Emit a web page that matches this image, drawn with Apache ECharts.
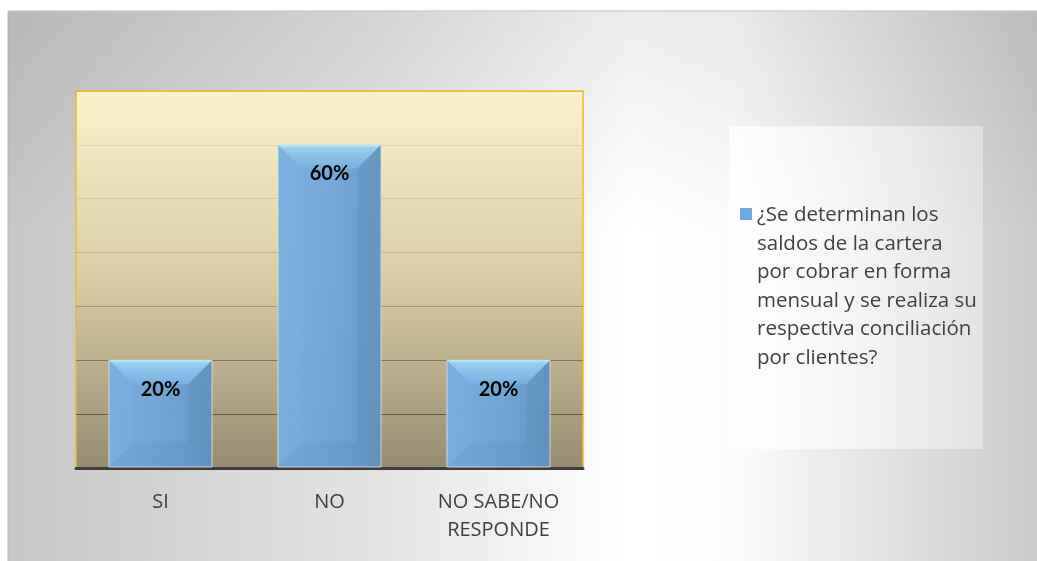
<!DOCTYPE html>
<html>
<head>
<meta charset="utf-8">
<script src="https://cdn.jsdelivr.net/npm/echarts@6/dist/echarts.min.js"></script>
<style>
  html, body { margin: 0; padding: 0; background: #ffffff; }
  #chart { width: 1037px; height: 561px; }
</style>
</head>
<body>
<div id="chart"></div>
<script>
// ---- data ----
const categories = ['SI', 'NO', 'NO SABE/NO RESPONDE'];
const values = [0.2, 0.6, 0.2];
const seriesName = '¿Se determinan los saldos de la cartera por cobrar en forma mensual y se realiza su respectiva conciliación por clientes?';
const legendLines = ['¿Se determinan los', 'saldos de la cartera', 'por cobrar en forma', 'mensual y se realiza su', 'respectiva conciliación', 'por clientes?'];
const yMin = 0, yMax = 0.7, yStep = 0.1;

const FONT = '"Open Sans", Lato, sans-serif';
const chart = echarts.init(document.getElementById('chart'), null, { renderer: 'canvas' });

function lg(x0, y0, x1, y1, stops) {
  return new echarts.graphic.LinearGradient(x0, y0, x1, y1, stops.map(s => ({ offset: s[0], color: s[1] })));
}

function renderBar(params, api) {
  const xi = api.value(0), v = api.value(1);
  const top = api.coord([xi, v]);
  const bot = api.coord([xi, 0]);
  const bw = api.size([1, 0])[0] * 0.61;
  const x0 = top[0] - bw / 2, x1 = top[0] + bw / 2;
  const y0 = top[1], y1 = bot[1] - 1;
  const h = y1 - y0;
  const b = Math.min(24, bw / 2, h / 2);
  const txt = Math.round(v * 100) + '%';
  return {
    type: 'group',
    children: [
      { type: 'rect', shape: { x: x0, y: y0, width: bw, height: h },
        style: { fill: lg(0, 0, 1, 0, [[0, '#75AEE0'], [0.5, '#6DA6D9'], [1, '#6197C7']]), opacity: 0.94 } },
      { type: 'polygon', shape: { points: [[x0, y0], [x1, y0], [x1 - b, y0 + b], [x0 + b, y0 + b]] },
        style: { fill: lg(0, 0, 0, 1, [[0, '#B8EAF6'], [0.14, '#94CEEE'], [1, '#75AFE0']]) } },
      { type: 'polygon', shape: { points: [[x0, y0], [x0 + b, y0 + b], [x0 + b, y1 - b], [x0, y1]] },
        style: { fill: 'rgba(130,185,230,0.18)' } },
      { type: 'polygon', shape: { points: [[x1, y0], [x1 - b, y0 + b], [x1 - b, y1 - b], [x1, y1]] },
        style: { fill: 'rgba(70,115,160,0.12)' } },
      { type: 'polygon', shape: { points: [[x0, y1], [x1, y1], [x1 - b, y1 - b], [x0 + b, y1 - b]] },
        style: { fill: 'rgba(80,130,180,0.16)' } },
      { type: 'rect', shape: { x: x0, y: y0, width: bw, height: h },
        style: { fill: 'none', stroke: 'rgba(215,228,236,0.85)', lineWidth: 1 } },
      { type: 'text', x: top[0], y: y0 + 29,
        style: { text: txt, textAlign: 'center', textVerticalAlign: 'middle',
                 font: 'bold 20px Lato, "Open Sans", sans-serif', fill: '#000000' } }
    ]
  };
}

const option = {
  backgroundColor: '#ffffff',
  animation: false,
  graphic: [
    { type: 'rect', z: -100, shape: { x: 8, y: 11, width: 1040, height: 560 },
      style: { fill: lg(0, 0, 1, 0, [[0, '#C6C6C6'], [0.35, '#E3E3E3'], [0.6, '#FFFFFF'], [0.7, '#FBFBFB'], [1, '#C8C8C8']]),
               stroke: '#B8B8B8', lineWidth: 1 } },
    { type: 'rect', z: -99, shape: { x: 8, y: 12, width: 1040, height: 560 },
      style: { fill: lg(0, 0, 0, 1, [[0, 'rgba(0,0,0,0.07)'], [0.4, 'rgba(0,0,0,0)'], [1, 'rgba(0,0,0,0)']]) } },
    { type: 'rect', z: -98, shape: { x: 729, y: 126, width: 254, height: 323 },
      style: { fill: lg(0, 0, 1, 0, [[0, 'rgba(255,255,255,0.75)'], [1, 'rgba(255,255,255,0.35)']]) } }
  ],
  grid: {
    left: 76, right: 454, top: 91, bottom: 93,
    show: true,
    backgroundColor: lg(0, 0, 0, 1, [[0, '#FCF2CC'], [0.5, '#D9CCA4'], [1, '#978B70']]),
    borderColor: '#F0B929', borderWidth: 1.5
  },
  legend: {
    show: true,
    left: 740, top: 201,
    orient: 'vertical',
    padding: 0,
    itemWidth: 12, itemHeight: 157,
    itemGap: 0,
    icon: 'path://M0,0H12V12H0Z M0,157H0.01',
    formatter: () => legendLines.join('\n'),
    textStyle: { fontFamily: FONT, fontSize: 20.5, lineHeight: 28.5, color: '#404040', padding: [0, 0, 0, 0] },
    data: [seriesName]
  },
  xAxis: {
    type: 'category',
    data: categories,
    axisLine: { show: true, lineStyle: { color: '#3E3E3E', width: 3 } },
    axisTick: { show: false },
    axisLabel: {
      interval: 0, margin: 20,
      fontFamily: FONT, fontSize: 20, lineHeight: 28, color: '#404040',
      formatter: v => v.replace('/NO ', '/NO\n')
    },
    splitLine: { show: false }
  },
  yAxis: {
    type: 'value',
    min: yMin, max: yMax, interval: yStep,
    axisLabel: { show: false },
    axisLine: { show: false },
    axisTick: { show: false },
    splitLine: { show: true, lineStyle: { width: 1.2,
      color: ['#555045', '#5F5748', '#7F755F', '#A0967C', '#BDB394', '#D2C8A7', '#DED4B2', '#F0B929'] } }
  },
  series: [{
    type: 'custom',
    name: seriesName,
    renderItem: renderBar,
    itemStyle: { color: '#6FA8DC' },
    encode: { x: 0, y: 1 },
    data: values.map((v, i) => [i, v]),
    z: 3
  }]
};
chart.setOption(option);
</script>
</body>
</html>
